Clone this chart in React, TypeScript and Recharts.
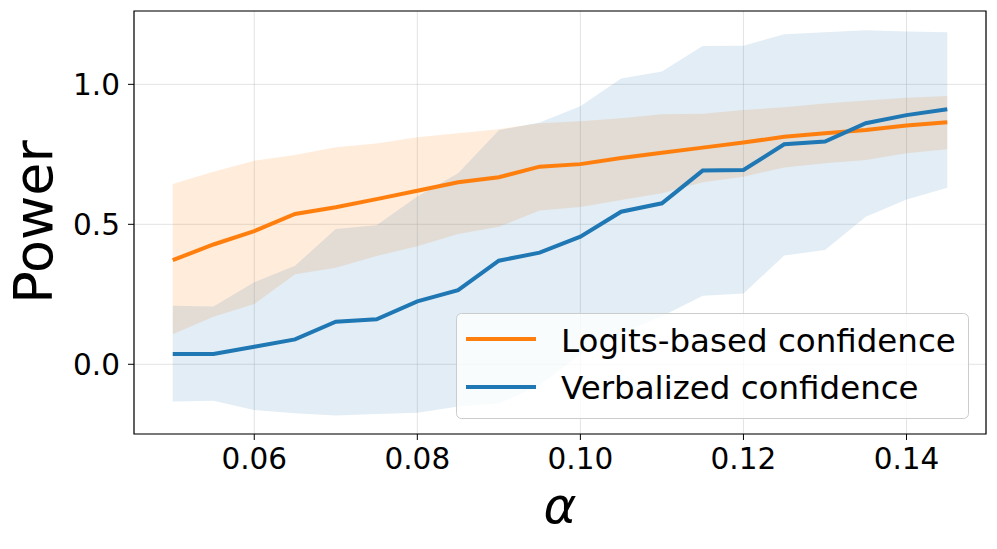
import React from "react";
import {
  ComposedChart,
  Area,
  Line,
  XAxis,
  YAxis,
  CartesianGrid,
  ReferenceArea,
} from "recharts";

// alpha levels on the x axis
const alphas = [
  0.05, 0.055, 0.06, 0.065, 0.07, 0.075, 0.08, 0.085, 0.09, 0.095, 0.1, 0.105,
  0.11, 0.115, 0.12, 0.125, 0.13, 0.135, 0.14, 0.145,
];

// Logits-based confidence: mean power and band
const logitsMean = [
  0.372, 0.428, 0.476, 0.537, 0.561, 0.59, 0.62, 0.65, 0.668, 0.706, 0.715,
  0.737, 0.756, 0.774, 0.792, 0.813, 0.825, 0.837, 0.853, 0.865,
];
const logitsUpper = [
  0.644, 0.688, 0.727, 0.748, 0.775, 0.789, 0.811, 0.825, 0.84, 0.861, 0.868,
  0.879, 0.893, 0.895, 0.908, 0.918, 0.932, 0.942, 0.952, 0.958,
];
const logitsLower = [
  0.107, 0.17, 0.215, 0.322, 0.345, 0.387, 0.422, 0.465, 0.491, 0.549, 0.562,
  0.587, 0.611, 0.65, 0.67, 0.703, 0.718, 0.73, 0.754, 0.768,
];

// Verbalized confidence: mean power and band
const verbalMean = [
  0.037, 0.037, 0.063, 0.089, 0.152, 0.161, 0.225, 0.265, 0.37, 0.399, 0.456,
  0.545, 0.575, 0.692, 0.694, 0.786, 0.796, 0.861, 0.89, 0.911,
];
const verbalUpper = [
  0.209, 0.206, 0.293, 0.352, 0.483, 0.497, 0.599, 0.682, 0.836, 0.864, 0.922,
  1.021, 1.046, 1.137, 1.138, 1.179, 1.186, 1.193, 1.189, 1.186,
];
const verbalLower = [
  -0.133, -0.13, -0.163, -0.175, -0.183, -0.178, -0.173, -0.151, -0.14, -0.075,
  0.035, 0.11, 0.172, 0.245, 0.253, 0.389, 0.408, 0.527, 0.589, 0.631,
];

const xTicks = [0.06, 0.08, 0.1, 0.12, 0.14];
const yTicks = [0, 0.5, 1.0];

const X_DOMAIN: [number, number] = [0.04525, 0.14975];
const Y_DOMAIN: [number, number] = [-0.249, 1.262];

const ORANGE = "#ff7f0e";
const BLUE = "#1f77b4";
const FONT = "DejaVu Sans";

const data = alphas.map((a, i) => ({
  alpha: a,
  logits: logitsMean[i],
  logitsBand: [logitsLower[i], logitsUpper[i]],
  verbal: verbalMean[i],
  verbalBand: [verbalLower[i], verbalUpper[i]],
}));

export default function App() {
  return (
    <div style={{ position: "absolute", left: 0, top: 0, width: 997, height: 549, background: "#fff" }}>
      <ComposedChart
        width={997}
        height={549}
        data={data}
        margin={{ top: 11, right: 11, bottom: 0, left: 0 }}
      >
        <CartesianGrid stroke="#b0b0b0" strokeOpacity={0.35} />
        <XAxis
          type="number"
          dataKey="alpha"
          domain={X_DOMAIN}
          allowDataOverflow
          ticks={xTicks}
          tickFormatter={(v: number) => v.toFixed(2)}
          height={115}
          axisLine={false}
          stroke="#000"
          tickSize={6}
          tickMargin={8}
          tick={{ fontSize: 29.5, fill: "#000", fontFamily: FONT }}
        />
        <YAxis
          type="number"
          domain={Y_DOMAIN}
          allowDataOverflow
          ticks={yTicks}
          tickFormatter={(v: number) => v.toFixed(1)}
          width={134}
          axisLine={false}
          stroke="#000"
          tickSize={6}
          tickMargin={8}
          tick={{ fontSize: 29.5, fill: "#000", fontFamily: FONT }}
        />
        <Area
          type="linear"
          dataKey="logitsBand"
          fill={ORANGE}
          fillOpacity={0.15}
          stroke="none"
          dot={false}
          activeDot={false}
          isAnimationActive={false}
        />
        <Area
          type="linear"
          dataKey="verbalBand"
          fill={BLUE}
          fillOpacity={0.13}
          stroke="none"
          dot={false}
          activeDot={false}
          isAnimationActive={false}
        />
        <Line
          type="linear"
          dataKey="logits"
          stroke={ORANGE}
          strokeWidth={4}
          dot={false}
          activeDot={false}
          isAnimationActive={false}
        />
        <Line
          type="linear"
          dataKey="verbal"
          stroke={BLUE}
          strokeWidth={4}
          dot={false}
          activeDot={false}
          isAnimationActive={false}
        />
        <ReferenceArea
          x1={X_DOMAIN[0]}
          x2={X_DOMAIN[1]}
          y1={Y_DOMAIN[0]}
          y2={Y_DOMAIN[1]}
          fill="none"
          stroke="#000"
          strokeWidth={1.2}
          ifOverflow="visible"
        />
      </ComposedChart>

      {/* axis titles and legend drawn on top */}
      <svg
        width={997}
        height={549}
        style={{ position: "absolute", left: 0, top: 0, pointerEvents: "none" }}
      >
        <text
          x={0}
          y={0}
          transform="translate(52 222) rotate(-90)"
          textAnchor="middle"
          fontFamily={FONT}
          fontSize={54}
          fill="#000"
        >
          Power
        </text>
        <text
          x={560}
          y={523}
          textAnchor="middle"
          fontFamily={FONT}
          fontStyle="italic"
          fontSize={50}
          fill="#000"
        >
          α
        </text>

        <rect
          x={456.5}
          y={313.5}
          width={512}
          height={105}
          rx={5}
          fill="#fff"
          fillOpacity={0.8}
          stroke="#cccccc"
          strokeWidth={1}
        />
        <line x1={466} y1={339} x2={536} y2={339} stroke={ORANGE} strokeWidth={4} />
        <line x1={466} y1={387} x2={536} y2={387} stroke={BLUE} strokeWidth={4} />
        <text x={561} y={351.5} fontFamily={FONT} fontSize={32.5} fill="#000">
          Logits-based confidence
        </text>
        <text x={561} y={399} fontFamily={FONT} fontSize={32.5} fill="#000">
          Verbalized confidence
        </text>
      </svg>
    </div>
  );
}
